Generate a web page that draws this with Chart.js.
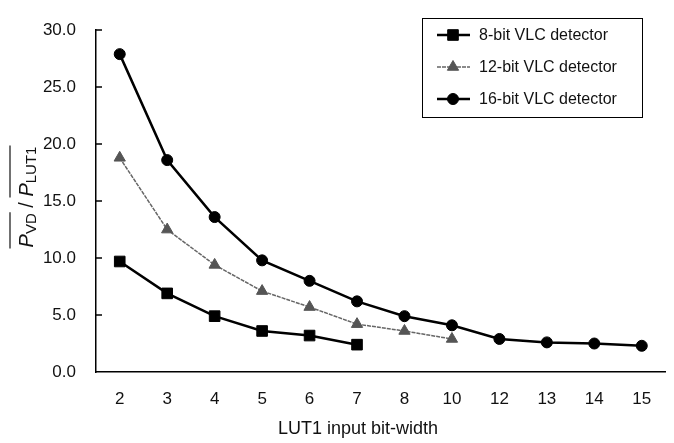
<!DOCTYPE html>
<html>
<head>
<meta charset="utf-8">
<script src="https://cdn.jsdelivr.net/npm/chart.js@4"></script>
<style>
  html, body { margin: 0; padding: 0; background: #fff; }
  #wrap { width: 674px; height: 443px; position: relative; }
</style>
</head>
<body>
<div id="wrap"><canvas id="chart"></canvas></div>
<script>
const bitWidths = ["2", "3", "4", "5", "6", "7", "8", "10", "12", "13", "14", "15"];
const vlc8 = [9.7, 6.9, 4.9, 3.6, 3.2, 2.4, null, null, null, null, null, null];
const vlc12 = [18.8, 12.5, 9.4, 7.1, 5.7, 4.2, 3.6, 2.9, null, null, null, null];
const vlc16 = [27.9, 18.6, 13.6, 9.8, 8.0, 6.2, 4.9, 4.1, 2.9, 2.6, 2.5, 2.3];
const seriesNames = ["8-bit VLC detector", "12-bit VLC detector", "16-bit VLC detector"];

const FONT = "Liberation Sans, Arial, sans-serif";

function drawMarker(ctx, style, r, x, y) {
    if (style === "rect") {
        const s = Math.SQRT1_2 * r;
        ctx.rect(x - s, y - s, 2 * s, 2 * s);
    } else if (style === "triangle") {
        ctx.moveTo(x, y - r);
        ctx.lineTo(x + r * 0.866, y + r * 0.5);
        ctx.lineTo(x - r * 0.866, y + r * 0.5);
        ctx.closePath();
    } else {
        ctx.arc(x, y, r, 0, Math.PI * 2);
    }
}

// inward y ticks, y title with overlines, x title, legend box
const extras = {
    id: "extras",
    afterDraw(chart) {
        const ctx = chart.ctx;
        const y = chart.scales.y;
        const area = chart.chartArea;
        ctx.save();

        ctx.strokeStyle = "#000";
        ctx.lineWidth = 1.5;
        for (let v = 5; v <= 30; v += 5) {
            const py = Math.round(y.getPixelForValue(v));
            ctx.beginPath();
            ctx.moveTo(area.left, py);
            ctx.lineTo(area.left + 6, py);
            ctx.stroke();
        }

        // y title
        ctx.translate(33, 197);
        ctx.rotate(-Math.PI / 2);
        ctx.fillStyle = "#111";
        ctx.textBaseline = "alphabetic";
        const bigF = "italic 20px " + FONT;
        const subF = "15px " + FONT;
        const normF = "20px " + FONT;
        const parts = [
            { t: "P", f: bigF, dy: 0, over: 1 },
            { t: "VD", f: subF, dy: 3, over: 1 },
            { t: " / ", f: normF, dy: 0, over: 0 },
            { t: "P", f: bigF, dy: 0, over: 2 },
            { t: "LUT1", f: subF, dy: 3, over: 2 }
        ];
        let total = 0;
        parts.forEach(p => { ctx.font = p.f; p.w = ctx.measureText(p.t).width; total += p.w; });
        let cx = -total / 2;
        const overs = {};
        parts.forEach(p => {
            ctx.font = p.f;
            ctx.fillText(p.t, cx, p.dy);
            if (p.over) {
                if (!overs[p.over]) overs[p.over] = [cx, cx + p.w];
                else overs[p.over][1] = cx + p.w;
            }
            cx += p.w;
        });
        ctx.lineWidth = 1.2;
        ctx.strokeStyle = "#111";
        Object.values(overs).forEach(([a, b]) => {
            ctx.beginPath();
            ctx.moveTo(a - 1, -23);
            ctx.lineTo(b + 1, -23);
            ctx.stroke();
        });
        ctx.setTransform(1, 0, 0, 1, 0, 0);

        // x title
        ctx.font = "18px " + FONT;
        ctx.textAlign = "center";
        ctx.textBaseline = "middle";
        ctx.fillStyle = "#111";
        ctx.fillText("LUT1 input bit-width", 358, 429);

        // legend
        const bx = 422.5, by = 18.5, bw = 220, bh = 99;
        ctx.fillStyle = "#fff";
        ctx.fillRect(bx, by, bw, bh);
        ctx.strokeStyle = "#000";
        ctx.lineWidth = 1;
        ctx.strokeRect(bx, by, bw, bh);
        const rowsY = [35, 67, 99];
        chart.data.datasets.forEach((ds, i) => {
            const ly = rowsY[i];
            ctx.save();
            ctx.strokeStyle = ds.borderColor;
            ctx.lineWidth = ds.borderWidth;
            ctx.setLineDash(ds.borderDash || []);
            ctx.beginPath();
            ctx.moveTo(437, ly);
            ctx.lineTo(470, ly);
            ctx.stroke();
            ctx.restore();
            ctx.fillStyle = ds.pointBackgroundColor;
            ctx.strokeStyle = ds.pointBorderColor;
            ctx.lineWidth = 1;
            ctx.beginPath();
            drawMarker(ctx, ds.pointStyle, ds.pointRadius, 453, ly);
            ctx.fill();
            ctx.stroke();
            ctx.fillStyle = "#111";
            ctx.font = "16px " + FONT;
            ctx.textAlign = "left";
            ctx.textBaseline = "middle";
            ctx.fillText(seriesNames[i], 479, ly + 1);
        });
        ctx.restore();
    }
};

new Chart(document.getElementById("chart"), {
    type: "line",
    data: {
        labels: bitWidths,
        datasets: [
            {
                label: seriesNames[0],
                data: vlc8,
                borderColor: "#000",
                borderWidth: 2.5,
                pointStyle: "rect",
                pointRadius: 7.5,
                pointBackgroundColor: "#000",
                pointBorderColor: "#000",
                pointBorderWidth: 1
            },
            {
                label: seriesNames[1],
                data: vlc12,
                borderColor: "#666",
                borderWidth: 1.5,
                borderDash: [4, 1],
                pointStyle: "triangle",
                pointRadius: 6.5,
                pointBackgroundColor: "#555",
                pointBorderColor: "#555",
                pointBorderWidth: 1
            },
            {
                label: seriesNames[2],
                data: vlc16,
                borderColor: "#000",
                borderWidth: 2.5,
                pointStyle: "circle",
                pointRadius: 5.5,
                pointBackgroundColor: "#000",
                pointBorderColor: "#000",
                pointBorderWidth: 1
            }
        ]
    },
    options: {
        responsive: true,
        maintainAspectRatio: false,
        animation: false,
        layout: { padding: { left: 0, top: 16, right: 0, bottom: 0 } },
        plugins: {
            legend: { display: false },
            tooltip: { enabled: false }
        },
        scales: {
            x: {
                offset: true,
                grid: { display: false, drawTicks: false },
                border: { color: "#000", width: 1.5 },
                ticks: {
                    font: { size: 17, family: FONT },
                    color: "#111",
                    padding: 17,
                    maxRotation: 0
                },
                afterFit(scale) { scale.height = 71; }
            },
            y: {
                min: 0,
                max: 30,
                grid: { display: false, drawTicks: false },
                border: { color: "#000", width: 1.5 },
                ticks: {
                    stepSize: 5,
                    font: { size: 17, family: FONT },
                    color: "#111",
                    padding: 20,
                    callback: v => v.toFixed(1)
                },
                afterFit(scale) { scale.width = 96; }
            }
        }
    },
    plugins: [extras]
});
</script>
</body>
</html>
